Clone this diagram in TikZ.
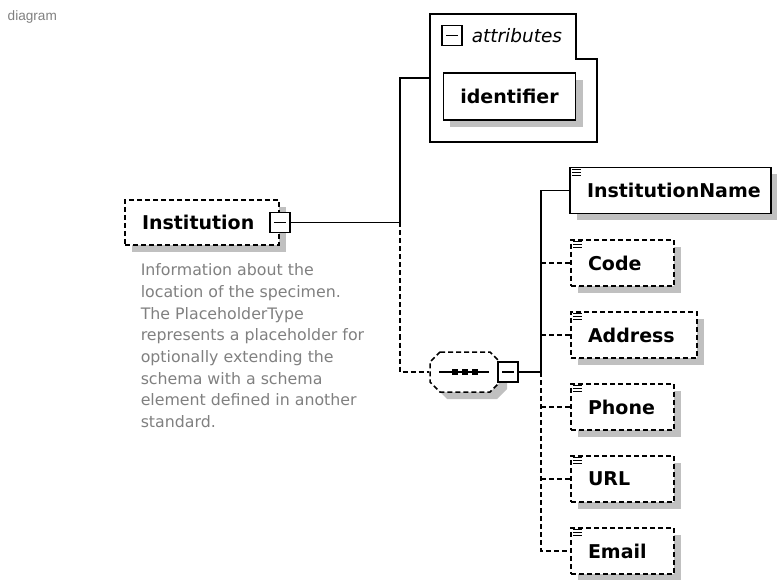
\documentclass[tikz,border=0pt]{standalone}
\usepackage{fontspec}
\setmainfont{DejaVu Sans}
\newfontfamily\captionfont{Liberation Sans}
\usetikzlibrary{shadows}
\definecolor{shadowgray}{RGB}{192,192,192}
\definecolor{notegray}{RGB}{128,128,128}

\begin{document}
\begin{tikzpicture}[x=1pt, y=-1pt, line width=1.5pt,
  every node/.style={align=center},
  boxshadow/.style={drop shadow={shadow xshift=7pt, shadow yshift=-7pt, fill=shadowgray, opacity=1}},
  elem/.style={rectangle, draw, fill=white, boxshadow, minimum height=46pt, inner xsep=17pt, font=\fontsize{19}{22}\selectfont\bfseries},
  optional/.style={dash pattern=on 5pt off 3pt},
  minusbox/.style={rectangle, draw, solid, fill=white, minimum size=20pt, inner sep=0pt,
    path picture={\draw ([xshift=4pt]path picture bounding box.west) -- ([xshift=-4pt]path picture bounding box.east);}},
  dotsq/.style={rectangle, fill, minimum size=6pt, inner sep=0pt}]
\useasboundingbox (0,0) rectangle (777,580);

% Caption
\node[anchor=base west, inner sep=0pt, text=notegray, font=\captionfont\fontsize{13.6}{16}\selectfont] (title) at (7,20.5) {diagram};

% Root element
\node[elem, optional, text width=120pt, align=left, minimum height=45pt] (inst) at (202,222.5) {Institution};
\node[minusbox] (instx) at (inst.east) {};
\node[anchor=north west, inner sep=0pt, align=left, text=notegray, font=\fontsize{15.8}{21.7}\selectfont] (instnote) at (140,263)
  {Information about the\\location of the specimen.\\The PlaceholderType\\represents a placeholder for\\optionally extending the\\schema with a schema\\element defined in another\\standard.};

% Attributes
\draw (430,14) -- (576,14) -- (576,59) -- (597,59) -- (597,142) -- (430,142) -- cycle;
\coordinate (attrin) at (430,78);
\node[minusbox] (attrx) at (452,35.5) {};
\node[anchor=west, inner sep=0pt, font=\fontsize{18.5}{22}\selectfont\itshape] (attrlbl) at (471,36) {attributes};
\node[elem, minimum width=131pt, minimum height=47pt] (ident) at (509.5,96.5) {identifier};

% Sequence
\fill[shadowgray] (447,359) -- (497,359) -- (507,369) -- (507,389) -- (497,399) -- (447,399) -- (437,389) -- (437,369) -- cycle;
\draw[optional, fill=white] (440,352) -- (490,352) -- (500,362) -- (500,382) -- (490,392) -- (440,392) -- (430,382) -- (430,362) -- cycle;
\node[minimum width=70pt, minimum height=40pt, inner sep=0pt] (seq) at (465,372) {};
\node[minusbox] (seqx) at (508,372) {};
\draw ([xshift=-26pt]seq.center) -- ([xshift=24pt]seq.center);
\foreach \dx [count=\i] in {-10,0,10}
  \node[dotsq] (dot\i) at ([xshift=\dx pt]seq.center) {};

% Child elements
\node[elem, text width=167pt, align=left] (instname) at (670.5,190.5) {InstitutionName};
\node[elem, optional, text width=69pt, align=left] (code) at (622.5,263) {Code};
\node[elem, optional, text width=92pt, align=left] (address) at (634,335) {Address};
\node[elem, optional, text width=69pt, align=left] (phone) at (622.5,407) {Phone};
\node[elem, optional, text width=69pt, align=left] (url) at (622.5,479) {URL};
\node[elem, optional, text width=69pt, align=left] (email) at (622.5,551) {Email};
\foreach \n in {instname,code,address,phone,url,email}
  \foreach \k in {2.5,5.5,8.5}
    \draw[solid, line width=1pt] ([xshift=3pt,yshift=-\k pt]\n.north west) -- ++(9,0);

% Connectors
\coordinate (fork) at (400,222.5);
\coordinate (bus) at (541,372);
\draw (instx.east) -- (fork) |- (attrin);
\draw[optional] (fork) |- (seq.west);
\draw (seqx.east) -- (bus) |- (instname.west);
\draw[optional] (code.west -| bus) -- (code.west);
\draw[optional] (address.west -| bus) -- (address.west);
\draw[optional] (phone.west -| bus) -- (phone.west);
\draw[optional] (url.west -| bus) -- (url.west);
\draw[optional] (bus) |- (email.west);
\end{tikzpicture}
\end{document}
